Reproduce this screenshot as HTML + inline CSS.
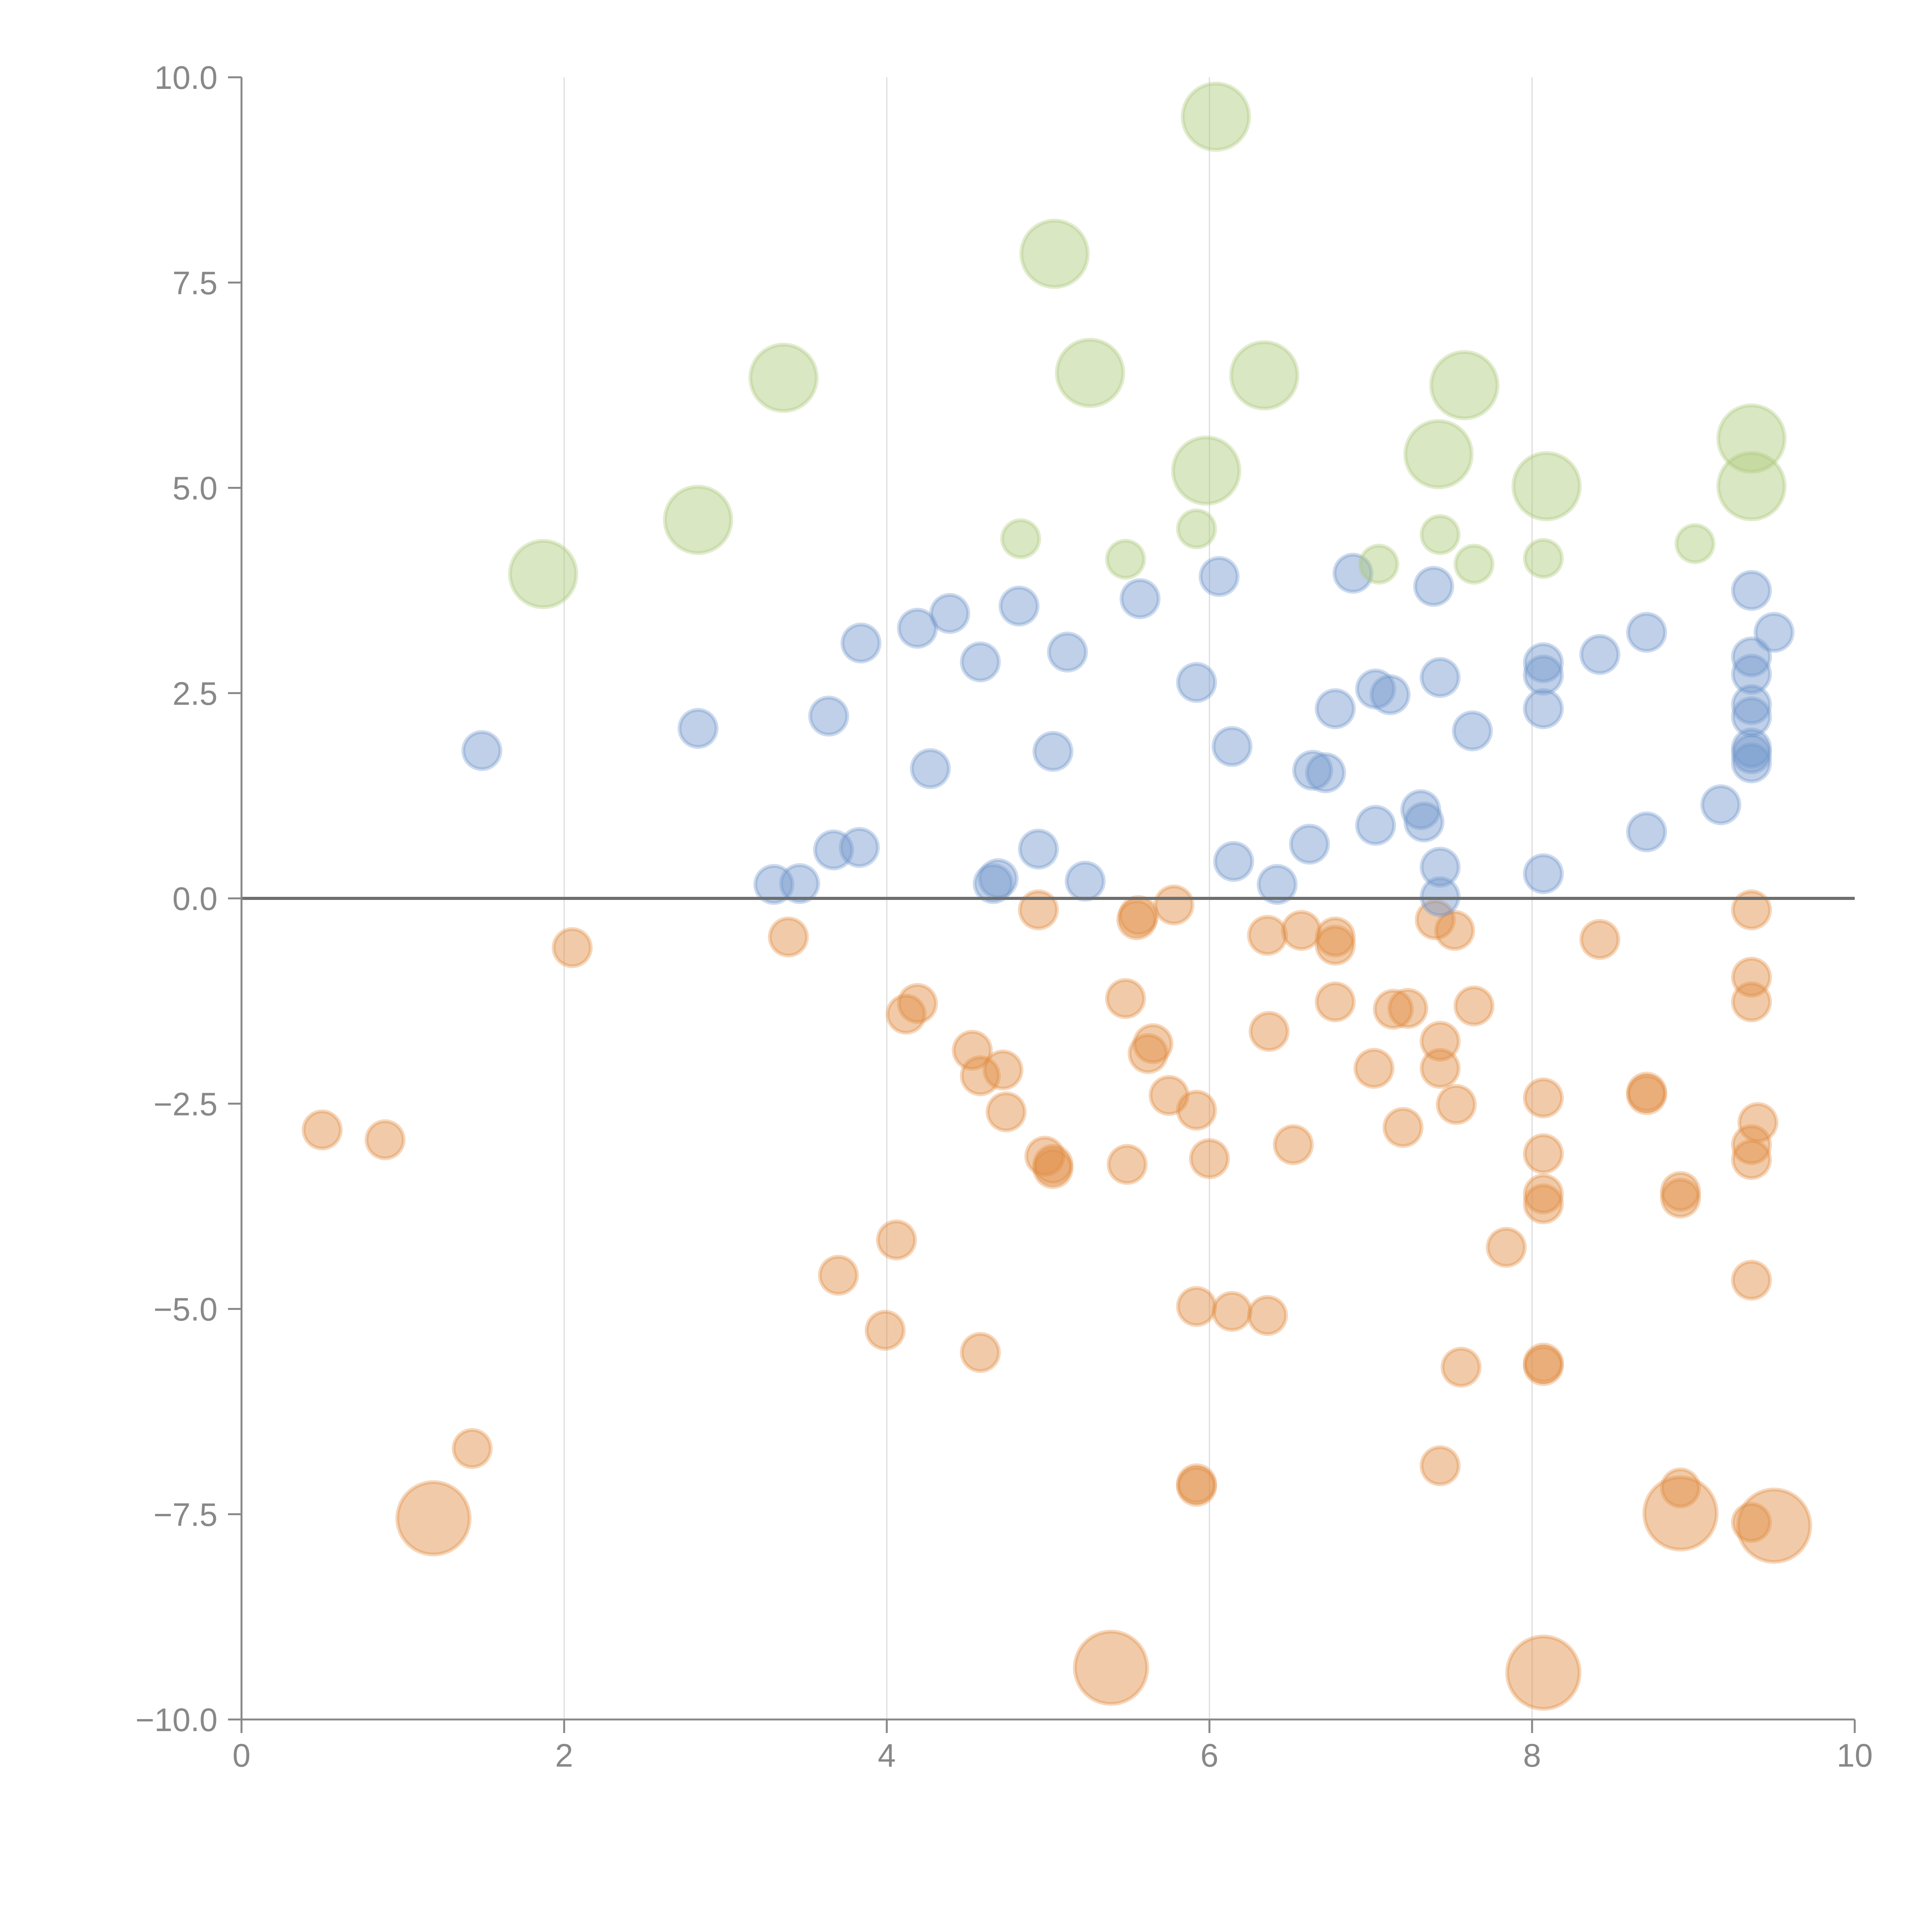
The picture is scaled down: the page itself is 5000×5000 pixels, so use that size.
<!DOCTYPE html>
<html><head><meta charset="utf-8"><style>
html,body{margin:0;padding:0;background:#fff;}
svg{display:block;font-family:"Liberation Sans",sans-serif;}
</style></head><body>
<svg id="chart" width="5000" height="5000" viewBox="0 0 5000 5000" xmlns="http://www.w3.org/2000/svg"></svg>
<script>
const xTicks=[0,2,4,6,8,10];
const xTickLabels=["0","2","4","6","8","10"];
const yTicks=[10,7.5,5,2.5,0,-2.5,-5,-7.5,-10];
const yTickLabels=["10.0","7.5","5.0","2.5","0.0","\u22122.5","\u22125.0","\u22127.5","\u221210.0"];

const orangeX=[0.50,0.89,1.43,1.19,2.05,3.39,3.70,3.99,4.06,4.12,4.19,4.53,4.58,4.72,4.74,4.58,4.94,4.98,5.03,5.03,5.48,5.49,5.39,5.55,5.56,5.75,5.62,5.65,5.78,5.92,6.00,5.92,5.92,5.92,6.14,6.36,6.36,6.37,6.52,6.57,6.78,6.78,6.78,7.02,7.14,7.23,7.20,7.40,7.43,7.43,7.52,7.53,7.64,7.43,7.56,7.84,8.07,8.07,8.07,8.07,8.07,8.07,8.07,8.42,8.71,8.71,8.92,8.92,8.92,8.92,9.36,9.36,9.36,9.36,9.40,9.36,9.36,9.36,9.50];
const orangeY=[-2.82,-2.94,-6.70,-7.55,-0.60,-0.47,-4.59,-5.26,-4.16,-1.41,-1.28,-1.85,-2.16,-2.09,-2.60,-5.53,-0.14,-3.14,-3.24,-3.29,-1.22,-3.24,-9.37,-0.26,-0.21,-2.40,-1.89,-1.77,-0.08,-2.58,-3.17,-4.97,-7.13,-7.16,-5.03,-0.45,-5.08,-1.62,-3.00,-0.39,-0.47,-0.57,-1.26,-2.07,-1.35,-1.34,-2.79,-0.26,-1.74,-2.07,-0.39,-2.51,-1.31,-6.91,-5.71,-4.25,-2.43,-3.11,-3.60,-3.72,-5.66,-5.69,-9.43,-0.50,-2.36,-2.39,-3.57,-3.65,-7.18,-7.49,-0.14,-0.96,-1.26,-3.00,-2.73,-3.18,-4.65,-7.60,-7.64];
const orangeSize=[1,1,1,3.8,1,1,1,1,1,1,1,1,1,1,1,1,1,1,1,1,1,1,3.8,1,1,1,1,1,1,1,1,1,1,1,1,1,1,1,1,1,1,1,1,1,1,1,1,1,1,1,1,1,1,1,1,1,1,1,1,1,1,1,3.8,1,1,1,1,1,1,3.8,1,1,1,1,1,1,1,1,3.8];

const blueX=[1.49,2.83,3.64,3.84,4.19,4.39,4.27,4.58,4.82,5.12,5.03,5.57,5.92,6.06,6.14,4.94,5.23,4.66,4.69,3.30,3.46,3.67,3.83,6.15,6.42,6.62,6.64,6.72,6.78,6.89,7.03,7.12,7.03,7.31,7.33,7.39,7.43,7.43,7.43,7.63,8.07,8.07,8.07,8.07,8.42,8.71,8.71,9.17,9.36,9.36,9.36,9.36,9.36,9.36,9.36,9.36,9.50];
const blueY=[1.80,2.07,2.22,3.11,3.29,3.47,1.58,2.88,3.56,3.00,1.79,3.65,2.63,3.92,1.85,0.60,0.21,0.18,0.24,0.17,0.18,0.59,0.62,0.45,0.17,0.66,1.56,1.53,2.31,3.96,2.55,2.48,0.89,1.08,0.93,3.80,2.69,0.38,0.02,2.04,2.87,2.72,2.31,0.30,2.97,3.24,0.81,1.14,3.75,2.94,2.73,2.36,2.21,1.83,1.76,1.65,3.24];

const greenX=[1.87,2.83,3.36,5.04,5.26,6.04,5.98,6.34,7.58,7.42,8.09,9.36,9.36,4.83,5.48,5.92,7.05,7.43,7.64,8.07,9.01];
const greenY=[3.95,4.61,6.34,7.85,6.40,9.52,5.21,6.37,6.25,5.41,5.02,5.60,5.02,4.38,4.13,4.50,4.07,4.43,4.07,4.14,4.32];
const greenSize=[3.2,3.2,3.2,3.2,3.2,3.2,3.2,3.2,3.2,3.2,3.2,3.2,3.2,1,1,1,1,1,1,1,1];

const NS="http://www.w3.org/2000/svg";
const svg=document.getElementById("chart");
const X0=625,X1=4800,Y0=4450,Y1=200;
function sx(v){return X0+(v-0)/(10-0)*(X1-X0);}
function sy(v){return Y0-(v+10)/20*(Y0-Y1);}
function sr(s){return 48*Math.sqrt(s);}
function mk(tag,attrs){const e=document.createElementNS(NS,tag);for(const k in attrs)e.setAttribute(k,attrs[k]);svg.appendChild(e);return e;}

for(let i=1;i<xTicks.length-1;i++){
  const g=mk("line",{x1:sx(xTicks[i]),x2:sx(xTicks[i]),y1:Y1,y2:Y0,stroke:"#dcdcdc","stroke-width":3});
  
  
}

function series(xs,ys,sz,color,name){
  for(let i=0;i<xs.length;i++){
    const c=mk("circle",{cx:sx(xs[i]),cy:sy(ys[i]),r:sr(sz?sz[i]:1),fill:color,"fill-opacity":0.45,stroke:color,"stroke-opacity":0.35,"stroke-width":10});
    
    
  }
}
series(orangeX,orangeY,orangeSize,"#e18b41","orange-bubble");
series(blueX,blueY,null,"#7297cc","blue-bubble");
series(greenX,greenY,greenSize,"#adc97a","green-bubble");

const z=mk("line",{x1:X0,x2:X1,y1:sy(0),y2:sy(0),stroke:"#6e6e6e","stroke-width":8});



const ya=mk("line",{x1:X0,x2:X0,y1:Y1,y2:Y0,stroke:"#888","stroke-width":5});


const xa=mk("line",{x1:X0,x2:X1,y1:Y0,y2:Y0,stroke:"#888","stroke-width":5});



for(let i=0;i<yTicks.length;i++){
  const y=sy(yTicks[i]);
  const t=mk("line",{x1:X0-35,x2:X0,y1:y,y2:y,stroke:"#888","stroke-width":5});
  
  
  const l=mk("text",{x:X0-62,y:y+30,"text-anchor":"end","font-size":84,fill:"#888"});
  l.textContent=yTickLabels[i];
  
  
}
for(let i=0;i<xTicks.length;i++){
  const x=sx(xTicks[i]);
  const t=mk("line",{x1:x,x2:x,y1:Y0,y2:Y0+35,stroke:"#888","stroke-width":5});
  
  
  const l=mk("text",{x:x,y:Y0+122,"text-anchor":"middle","font-size":84,fill:"#888"});
  l.textContent=xTickLabels[i];
  
  
}
</script>
</body></html>
